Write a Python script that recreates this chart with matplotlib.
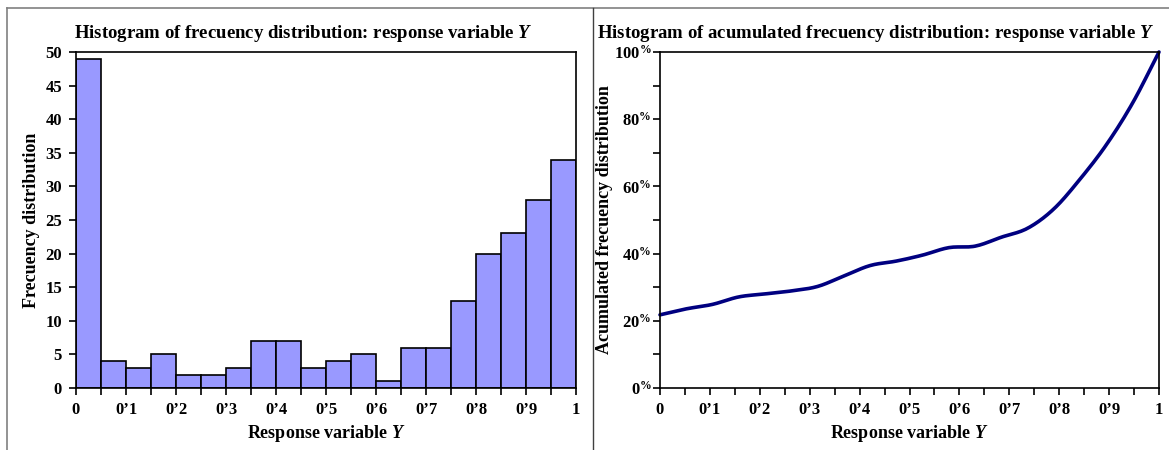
import numpy as np
import matplotlib
matplotlib.use('Agg')
import matplotlib.pyplot as plt
from matplotlib.lines import Line2D

# data
bin_edges = np.arange(0, 1.0001, 0.05)
counts = [49, 4, 3, 5, 2, 2, 3, 7, 7, 3, 4, 5, 1, 6, 6, 13, 20, 23, 28, 34]
tick_vals = [0, 0.1, 0.2, 0.3, 0.4, 0.5, 0.6, 0.7, 0.8, 0.9, 1.0]
tick_labels = ['0', '0’1', '0’2', '0’3', '0’4', '0’5', '0’6', '0’7', '0’8', '0’9', '1']
pct_ticks = [0, 20, 40, 60, 80, 100]
pct_labels = ['0$^{\\%}$', '20$^{\\%}$', '40$^{\\%}$', '60$^{\\%}$', '80$^{\\%}$', '100$^{\\%}$']

plt.rcParams['font.family'] = 'Liberation Serif'
plt.rcParams['font.weight'] = 'bold'
plt.rcParams['axes.labelweight'] = 'bold'
plt.rcParams['axes.titleweight'] = 'bold'
plt.rcParams['mathtext.fontset'] = 'custom'
plt.rcParams['mathtext.it'] = 'Liberation Serif:italic:bold'
plt.rcParams['mathtext.rm'] = 'Liberation Serif:bold'
plt.rcParams['mathtext.default'] = 'rm'


def smooth(x, y, n=12):
    # catmull-rom style smoothing of the polyline (like excel smoothed line)
    x = np.asarray(x, float)
    y = np.asarray(y, float)
    px = np.concatenate([[2 * x[0] - x[1]], x, [2 * x[-1] - x[-2]]])
    py = np.concatenate([[2 * y[0] - y[1]], y, [2 * y[-1] - y[-2]]])
    xs, ys = [], []
    t = np.linspace(0, 1, n, endpoint=False)
    for i in range(1, len(px) - 2):
        for p, out in ((px, xs), (py, ys)):
            p0, p1, p2, p3 = p[i - 1], p[i], p[i + 1], p[i + 2]
            out.extend(0.5 * (2 * p1 + (-p0 + p2) * t + (2 * p0 - 5 * p1 + 4 * p2 - p3) * t ** 2
                              + (-p0 + 3 * p1 - 3 * p2 + p3) * t ** 3))
    xs.append(x[-1])
    ys.append(y[-1])
    return np.array(xs), np.array(ys)


fig = plt.figure(figsize=(11.69, 4.5), dpi=100)

# frame lines
fig.add_artist(Line2D([7 / 1169, 7 / 1169], [0, 1 - 8 / 450], color='#808080', lw=1.2))
fig.add_artist(Line2D([7 / 1169, 1], [1 - 8 / 450, 1 - 8 / 450], color='#808080', lw=1.2))
fig.add_artist(Line2D([593 / 1169, 593 / 1169], [0, 1 - 8 / 450], color='#404040', lw=1.0))

# left: histogram
ax1 = fig.add_axes([76 / 1169, 1 - 388 / 450, 500 / 1169, 336 / 450])
ax1.bar(bin_edges[:-1], counts, width=0.05, align='edge', color='#9999FF',
        edgecolor='black', linewidth=1.2)
ax1.set_xlim(0, 1)
ax1.set_ylim(0, 50)
ax1.set_yticks(range(0, 51, 5))
ax1.set_xticks(tick_vals)
ax1.set_xticklabels(tick_labels)
ax1.set_xticks(bin_edges, minor=True)
ax1.set_title('Histogram of frecuency distribution: response variable $\\mathit{Y}$',
              fontsize=13.5, pad=10, loc='left', x=-0.005)
ax1.set_xlabel('Response variable $\\mathit{Y}$', fontsize=13, labelpad=4)
ax1.set_ylabel('Frecuency distribution', fontsize=13, labelpad=4)

# right: accumulated
cum = np.cumsum(counts) / np.sum(counts) * 100
xpos = np.linspace(0, 1, len(counts))
sx, sy = smooth(xpos, cum)
ax2 = fig.add_axes([660 / 1169, 1 - 388 / 450, 499 / 1169, 336 / 450])
ax2.plot(sx, sy, color='#000080', lw=2.6, solid_capstyle='round', clip_on=False)
ax2.set_xlim(0, 1)
ax2.set_ylim(0, 100)
ax2.set_yticks(pct_ticks)
ax2.set_yticklabels(pct_labels)
ax2.set_yticks(range(10, 100, 20), minor=True)
ax2.set_xticks(tick_vals)
ax2.set_xticklabels(tick_labels)
ax2.set_xticks(bin_edges, minor=True)
ax2.set_title('Histogram of acumulated frecuency distribution: response variable $\\mathit{Y}$',
              fontsize=13.5, pad=10, loc='left', x=-0.126)
ax2.set_xlabel('Response variable $\\mathit{Y}$', fontsize=13, labelpad=4)
ax2.set_ylabel('Acumulated frecuency distribution', fontsize=13, labelpad=1)

for ax in (ax1, ax2):
    for s in ax.spines.values():
        s.set_linewidth(1.2)
    ax.tick_params(which='both', direction='out', width=1.2, labelsize=12)
    ax.tick_params(which='major', length=5, pad=5)
    ax.tick_params(which='minor', length=5)
    for lab in ax.get_xticklabels() + ax.get_yticklabels():
        lab.set_fontweight('bold')
ax2.tick_params(axis='y', which='major', pad=1)

fig.savefig('out.png', dpi=100)
